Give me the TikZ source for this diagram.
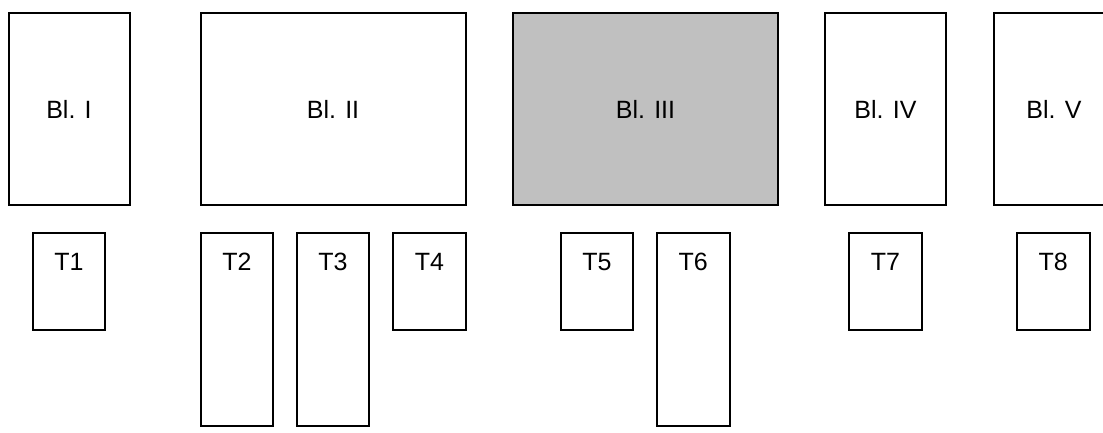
\documentclass[tikz,border=0pt]{standalone}
\usepackage{fontspec}
\setmainfont{Liberation Sans}
\begin{document}
\begin{tikzpicture}[x=1pt,y=-1pt,
  box/.style={draw=black, line width=2pt, inner sep=0pt, outer sep=0pt, font=\fontsize{25}{30}\selectfont},
  bigbox/.style={box, minimum height=192pt},
  narrow/.style={minimum width=121pt},
  wide/.style={minimum width=265pt},
  tbox/.style={box, minimum width=72.5pt},
  short/.style={minimum height=97pt},
  tall/.style={minimum height=193pt},
  tlab/.style={label={[font=\fontsize{25}{30}\selectfont, anchor=center, yshift=-29pt]north:#1}}
]
\useasboundingbox (0,0) rectangle (1103,432);
\clip (0,0) rectangle (1103,432);
\node[bigbox, narrow] (b1) at (69,109.3) {Bl. I};
\node[bigbox, wide] (b2) at (333,109.3) {Bl. II};
\node[bigbox, wide, fill={rgb,255:red,192;green,192;blue,192}] (b3) at (645.5,109.3) {Bl. III};
\node[bigbox, narrow] (b4) at (885.5,109.3) {Bl. IV};
\node[bigbox, narrow] (b5) at (1054,109.3) {Bl. V};
\node[tbox, short, tlab=T1] (t1) at (69,281.5) {};
\node[tbox, tall, tlab=T2] (t2) at (237,329.5) {};
\node[tbox, tall, tlab=T3] (t3) at (333,329.5) {};
\node[tbox, short, tlab=T4] (t4) at (429.5,281.5) {};
\node[tbox, short, tlab=T5] (t5) at (597,281.5) {};
\node[tbox, tall, tlab=T6] (t6) at (693.3,329.5) {};
\node[tbox, short, tlab=T7] (t7) at (885.4,281.5) {};
\node[tbox, short, tlab=T8] (t8) at (1053.3,281.5) {};
\end{tikzpicture}
\end{document}
